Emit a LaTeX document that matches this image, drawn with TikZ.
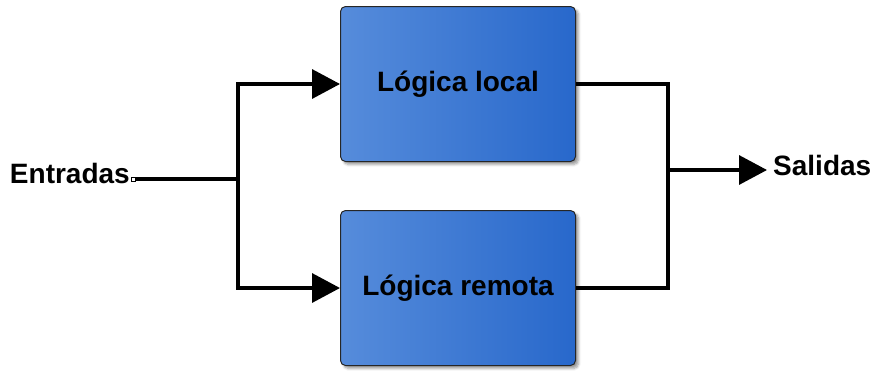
\documentclass[tikz,border=0pt]{standalone}
\usepackage{fontspec}
\setmainfont{Liberation Sans}
\usetikzlibrary{arrows.meta,shadows.blur}
\begin{document}
\begin{tikzpicture}[x=1pt,y=-1pt,
  logicbox/.style={draw=black!85, line width=1pt, rounded corners=5pt,
    left color=logicL, right color=logicR,
    minimum width=235pt, minimum height=155pt,
    font=\bfseries\fontsize{28}{33}\selectfont,
    blur shadow={shadow xshift=3pt, shadow yshift=-3pt, shadow opacity=40, shadow blur steps=5, shadow blur radius=2.5pt}},
  label/.style={inner sep=0pt, font=\bfseries\fontsize{28}{33}\selectfont},
  wire/.style={line width=3.4pt, line join=miter},
  flow/.style={wire, -{Triangle[length=28pt,width=29pt]}},
]
\definecolor{logicL}{RGB}{86,140,219}
\definecolor{logicR}{RGB}{40,104,203}
\useasboundingbox (0,0) rectangle (874,370);

% processing blocks
\node[logicbox] (local)  at (458,84)  {Lógica local};
\node[logicbox] (remote) at (458,288) {Lógica remota};

% input and output labels
\node[label, anchor=base east] (in) at (130,183) {Entradas};
\node[label, anchor=base west, inner xsep=6pt] (out) at (767,175) {Salidas};

% start marker of the input line
\node[draw=black, fill=white, line width=0.8pt, minimum size=4pt, inner sep=0pt] (start) at (133,179) {};

\coordinate (split) at (238,179);
\coordinate (merge) at (668,170);

% input distribution
\draw[wire] (start.east) -- (split);
\draw[flow] (split) |- (local.west);
\draw[flow] (split) |- (remote.west);

% output collection
\draw[wire] (local.east) -| (merge);
\draw[wire] (remote.east) -| (merge);
\draw[flow] (merge) -- (merge -| out.west);
\end{tikzpicture}
\end{document}
